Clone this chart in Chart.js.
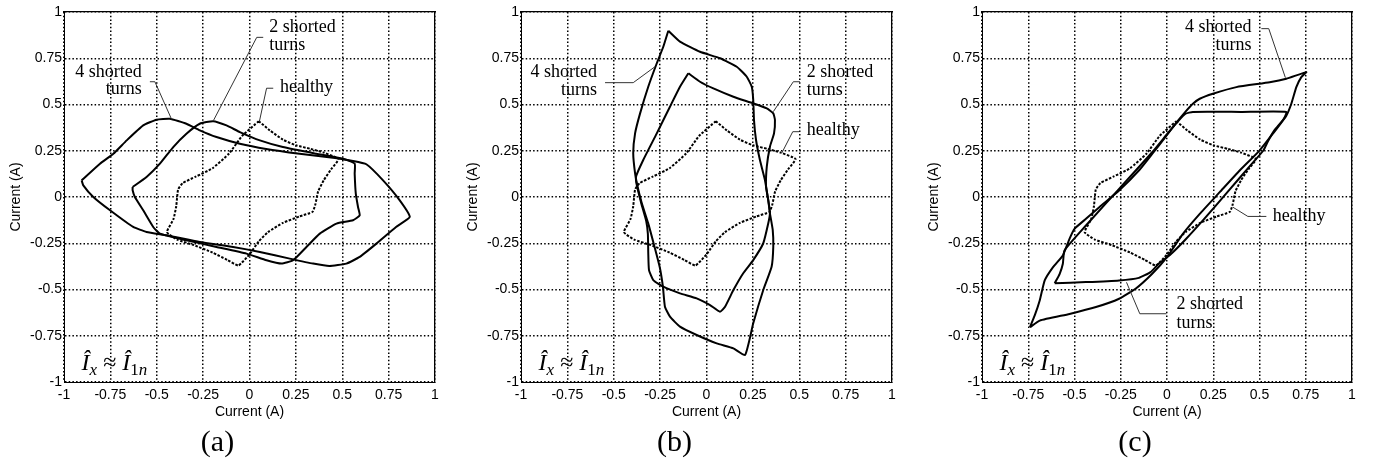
<!DOCTYPE html>
<html>
<head>
<meta charset="utf-8">
<script src="https://cdn.jsdelivr.net/npm/chart.js@4.4.0/dist/chart.umd.min.js"></script>
<style>
  body { margin: 0; background: #fff; }
  #wrap { position: relative; width: 1373px; height: 461px; }
  canvas { position: absolute; top: 0; }
</style>
</head>
<body>
<div id="wrap">
  <canvas id="chartA" width="457" height="461" style="left:0px"></canvas>
  <canvas id="chartB" width="457" height="461" style="left:457px"></canvas>
  <canvas id="chartC" width="455" height="461" style="left:918px"></canvas>
</div>
<script>
// tick labels (both axes)
const tickVals = [-1, -0.75, -0.5, -0.25, 0, 0.25, 0.5, 0.75, 1];
const tickText = ['-1', '-0.75', '-0.5', '-0.25', '0', '0.25', '0.5', '0.75', '1'];

// healthy loop, same in all three panels
const hX = [0.05, 0.11, 0.18, 0.25, 0.33, 0.40, 0.48, 0.44, 0.40, 0.37, 0.355, 0.34, 0.27, 0.18, 0.10, 0.05, 0.0, -0.06, -0.12, -0.2, -0.3, -0.39, -0.445, -0.41, -0.395, -0.385, -0.36, -0.29, -0.2, -0.11, -0.04, 0.05];
const hY = [0.41, 0.36, 0.31, 0.28, 0.26, 0.24, 0.205, 0.15, 0.09, 0.03, -0.04, -0.08, -0.105, -0.14, -0.19, -0.24, -0.31, -0.37, -0.34, -0.30, -0.26, -0.23, -0.19, -0.12, -0.05, 0.04, 0.075, 0.11, 0.155, 0.235, 0.33, 0.41];

// (a) 4 shorted turns
const a4X = [-0.905, -0.806, -0.734, -0.662, -0.573, -0.501, -0.43, -0.34, -0.268, -0.178, -0.052, 0.09, 0.27, 0.45, 0.558, 0.63, 0.72, 0.81, 0.864, 0.79, 0.684, 0.594, 0.522, 0.43, 0.343, 0.217, 0.056, -0.088, -0.268, -0.447, -0.555, -0.627, -0.752, -0.842, -0.896, -0.905];
const a4Y = [0.09, 0.18, 0.234, 0.306, 0.387, 0.418, 0.423, 0.396, 0.36, 0.324, 0.288, 0.26, 0.234, 0.212, 0.195, 0.177, 0.09, -0.018, -0.108, -0.162, -0.252, -0.324, -0.36, -0.373, -0.36, -0.333, -0.297, -0.27, -0.243, -0.207, -0.189, -0.162, -0.072, 0, 0.063, 0.09];
// (a) 2 shorted turns
const a2X = [-0.63, -0.555, -0.483, -0.411, -0.34, -0.268, -0.196, -0.124, -0.052, 0.056, 0.18, 0.36, 0.504, 0.567, 0.567, 0.573, 0.585, 0.594, 0.558, 0.469, 0.379, 0.307, 0.235, 0.172, 0.092, -0.016, -0.178, -0.34, -0.483, -0.519, -0.573, -0.618, -0.63, -0.63];
const a2Y = [0.054, 0.108, 0.18, 0.27, 0.342, 0.396, 0.41, 0.387, 0.351, 0.306, 0.27, 0.234, 0.207, 0.18, 0.126, 0.018, -0.054, -0.099, -0.126, -0.144, -0.198, -0.27, -0.342, -0.36, -0.342, -0.306, -0.27, -0.234, -0.198, -0.162, -0.072, 0, 0.036, 0.054];

// (b) 4 shorted turns
const b4X = [-0.206, -0.143, -0.035, 0.073, 0.163, 0.217, 0.244, 0.252, 0.256, 0.267, 0.288, 0.315, 0.333, 0.342, 0.357, 0.36, 0.351, 0.306, 0.252, 0.208, 0.145, 0.055, -0.053, -0.143, -0.197, -0.224, -0.235, -0.252, -0.28, -0.315, -0.35, -0.37, -0.385, -0.395, -0.385, -0.358, -0.314, -0.268, -0.233, -0.206];
const b4Y = [0.899, 0.84, 0.785, 0.75, 0.704, 0.65, 0.596, 0.524, 0.416, 0.308, 0.2, 0.092, -0.02, -0.088, -0.178, -0.269, -0.377, -0.503, -0.683, -0.854, -0.818, -0.791, -0.746, -0.701, -0.647, -0.593, -0.485, -0.38, -0.27, -0.14, -0.03, 0.05, 0.128, 0.236, 0.344, 0.452, 0.596, 0.723, 0.812, 0.899];
// (b) 2 shorted turns
const b2X = [-0.098, -0.035, 0.037, 0.145, 0.252, 0.325, 0.36, 0.369, 0.364, 0.342, 0.325, 0.321, 0.333, 0.342, 0.333, 0.306, 0.252, 0.198, 0.145, 0.1, 0.073, 0.019, -0.053, -0.143, -0.233, -0.287, -0.31, -0.314, -0.316, -0.325, -0.35, -0.375, -0.38, -0.341, -0.268, -0.197, -0.143, -0.098];
const b2Y = [0.669, 0.623, 0.587, 0.542, 0.506, 0.479, 0.452, 0.416, 0.344, 0.272, 0.164, 0.056, -0.016, -0.088, -0.142, -0.25, -0.341, -0.412, -0.503, -0.593, -0.62, -0.584, -0.548, -0.521, -0.485, -0.449, -0.395, -0.3, -0.2, -0.13, -0.04, 0.06, 0.11, 0.2, 0.344, 0.488, 0.596, 0.669];

// (c) 4 shorted turns
const c4X = [-0.741, -0.715, -0.688, -0.661, -0.616, -0.563, -0.527, -0.5, -0.438, -0.366, -0.259, -0.152, -0.08, -0.009, 0.045, 0.098, 0.14, 0.177, 0.248, 0.375, 0.555, 0.645, 0.753, 0.726, 0.699, 0.672, 0.645, 0.572, 0.5, 0.393, 0.285, 0.177, 0.086, 0.0, -0.08, -0.17, -0.259, -0.384, -0.527, -0.688, -0.741];
const c4Y = [-0.704, -0.64, -0.559, -0.451, -0.379, -0.316, -0.226, -0.172, -0.118, -0.055, 0.035, 0.143, 0.233, 0.323, 0.395, 0.459, 0.504, 0.531, 0.558, 0.594, 0.62, 0.639, 0.675, 0.648, 0.594, 0.504, 0.44, 0.342, 0.251, 0.143, 0.026, -0.091, -0.199, -0.325, -0.415, -0.496, -0.55, -0.595, -0.632, -0.668, -0.704];
// (c) 2 shorted turns
const c2X = [-0.607, -0.58, -0.563, -0.554, -0.438, -0.259, -0.08, 0.009, 0.063, 0.1, 0.14, 0.4, 0.645, 0.63, 0.58, 0.545, 0.52, 0.45, 0.33, 0.2, 0.1, 0.02, -0.045, -0.089, -0.152, -0.259, -0.438, -0.607];
const c2Y = [-0.466, -0.415, -0.361, -0.289, -0.154, 0.044, 0.242, 0.35, 0.413, 0.45, 0.46, 0.46, 0.46, 0.42, 0.36, 0.30, 0.25, 0.17, 0.03, -0.12, -0.23, -0.31, -0.361, -0.406, -0.437, -0.451, -0.46, -0.466];

// leader lines for the labels
const aLead4X = [-0.537, -0.51, -0.42], aLead4Y = [0.623, 0.623, 0.42];
const aLead2X = [0.074, 0.039, -0.195], aLead2Y = [0.863, 0.863, 0.412];
const aLeadHX = [0.128, 0.092, 0.053], aLeadHY = [0.588, 0.588, 0.407];
const bLead4X = [-0.547, -0.395, -0.278], bLead4Y = [0.618, 0.618, 0.704];
const bLead2X = [0.504, 0.468, 0.36], bLead2Y = [0.623, 0.623, 0.461];
const bLeadHX = [0.5, 0.465, 0.405], bLeadHY = [0.353, 0.353, 0.236];
const cLead4X = [0.51, 0.55, 0.64], cLead4Y = [0.91, 0.91, 0.645];
const cLeadHX = [0.537, 0.437, 0.356], cLeadHY = [-0.105, -0.105, -0.055];
const cLead2X = [-0.003, -0.147, -0.219], cLead2Y = [-0.631, -0.631, -0.461];

const aLabels = [
  { text: '4 shorted', x: -0.581, y: 0.672, align: 'right' },
  { text: 'turns', x: -0.581, y: 0.582, align: 'right' },
  { text: '2 shorted', x: 0.107, y: 0.917, align: 'left' },
  { text: 'turns', x: 0.107, y: 0.822, align: 'left' },
  { text: 'healthy', x: 0.164, y: 0.593, align: 'left' }
];
const bLabels = [
  { text: '4 shorted', x: -0.59, y: 0.672, align: 'right' },
  { text: 'turns', x: -0.59, y: 0.578, align: 'right' },
  { text: '2 shorted', x: 0.54, y: 0.672, align: 'left' },
  { text: 'turns', x: 0.54, y: 0.578, align: 'left' },
  { text: 'healthy', x: 0.54, y: 0.362, align: 'left' }
];
const cLabels = [
  { text: '4 shorted', x: 0.457, y: 0.916, align: 'right' },
  { text: 'turns', x: 0.457, y: 0.819, align: 'right' },
  { text: 'healthy', x: 0.571, y: -0.105, align: 'left' },
  { text: '2 shorted', x: 0.052, y: -0.581, align: 'left' },
  { text: 'turns', x: 0.052, y: -0.684, align: 'left' }
];
const formulaAt = [-0.905, -0.935];

const serif = '"Liberation Serif", "Times New Roman", serif';
Chart.defaults.font.family = '"Liberation Sans", Arial, sans-serif';
Chart.defaults.color = '#000';

function pts(xs, ys) {
  return xs.map((x, i) => ({ x: x, y: ys[i] }));
}

const notesPlugin = {
  id: 'notes',
  afterDatasetsDraw(chart, args, opts) {
    const ctx = chart.ctx;
    const sx = chart.scales.x, sy = chart.scales.y;
    ctx.save();
    ctx.fillStyle = '#000';
    ctx.textBaseline = 'middle';
    ctx.font = '18px ' + serif;
    opts.labels.forEach(l => {
      ctx.textAlign = l.align;
      ctx.fillText(l.text, sx.getPixelForValue(l.x), sy.getPixelForValue(l.y));
    });
    // I^_x ≈ I^_1n
    let px = sx.getPixelForValue(formulaAt[0]);
    const py = sy.getPixelForValue(formulaAt[1]);
    ctx.textAlign = 'left';
    ctx.textBaseline = 'alphabetic';
    const parts = [
      ['Î', 'italic 24px ' + serif, 0],
      ['x', 'italic 17px ' + serif, 5],
      [' ≈ ', '24px ' + serif, 0],
      ['Î', 'italic 24px ' + serif, 0],
      ['1', '17px ' + serif, 5],
      ['n', 'italic 17px ' + serif, 5]
    ];
    parts.forEach(p => {
      ctx.font = p[1];
      ctx.fillText(p[0], px, py + p[2]);
      px += ctx.measureText(p[0]).width;
    });
    ctx.restore();
  }
};

function makePanel(id, curves, leaders, labels, letter, padRight) {
  const datasets = [];
  leaders.forEach(l => {
    datasets.push({ data: pts(l[0], l[1]), showLine: true, borderColor: '#333', borderWidth: 1, pointRadius: 0 });
  });
  curves.forEach(c => {
    datasets.push({ data: pts(c[0], c[1]), showLine: true, borderColor: '#000', borderWidth: 2, borderDash: c[2], pointRadius: 0, tension: 0.15 });
  });

  const mainAxis = (isX) => ({
    type: 'linear', min: -1, max: 1,
    afterBuildTicks: s => { s.ticks = tickVals.map(v => ({ value: v })); },
    ticks: {
      callback: v => tickText[Math.round((v + 1) * 4)],
      autoSkip: false, maxRotation: 0, padding: isX ? 5 : 2,
      font: { size: 14 }
    },
    grid: { color: '#000', lineWidth: 1.5, drawTicks: false },
    border: { display: true, color: '#000', width: 1, dash: [1.5, 2.2] },
    title: { display: true, text: 'Current (A)', font: { size: 14 }, padding: isX ? { top: 0, bottom: 4 } : { top: 8, bottom: 0 } },
    afterFit: s => { if (isX) s.height = 43; else s.width = 64; }
  });
  const frameAxis = (pos) => ({
    type: 'linear', position: pos, min: -1, max: 1,
    ticks: { display: false }, grid: { display: false, drawTicks: false },
    border: { display: true, color: '#000', width: 1.3 },
    afterFit: s => { if (pos === 'top') s.height = 0; else s.width = 0; }
  });

  new Chart(document.getElementById(id), {
    type: 'scatter',
    data: { datasets: datasets },
    options: {
      responsive: false, animation: false, devicePixelRatio: 1,
      layout: { padding: { left: 0, right: padRight, top: 12, bottom: 0 } },
      plugins: {
        legend: { display: false }, tooltip: { enabled: false },
        title: { display: true, position: 'bottom', text: letter, color: '#000', font: { family: serif, size: 30, weight: 'normal', lineHeight: 1.2 }, padding: { top: 0, bottom: 0 } },
        notes: { labels: labels }
      },
      scales: { x: mainAxis(true), y: mainAxis(false), x2: frameAxis('top'), y2: frameAxis('right') }
    },
    plugins: [notesPlugin]
  });
}

const dotted = [2.5, 1.5];
makePanel('chartA', [[hX, hY, dotted], [a2X, a2Y, []], [a4X, a4Y, []]],
  [[aLead4X, aLead4Y], [aLead2X, aLead2Y], [aLeadHX, aLeadHY]], aLabels, '(a)', 22);
makePanel('chartB', [[hX, hY, dotted], [b2X, b2Y, []], [b4X, b4Y, []]],
  [[bLead4X, bLead4Y], [bLead2X, bLead2Y], [bLeadHX, bLeadHY]], bLabels, '(b)', 22);
makePanel('chartC', [[hX, hY, dotted], [c2X, c2Y, []], [c4X, c4Y, []]],
  [[cLead4X, cLead4Y], [cLead2X, cLead2Y], [cLeadHX, cLeadHY]], cLabels, '(c)', 21);
</script>
</body>
</html>
